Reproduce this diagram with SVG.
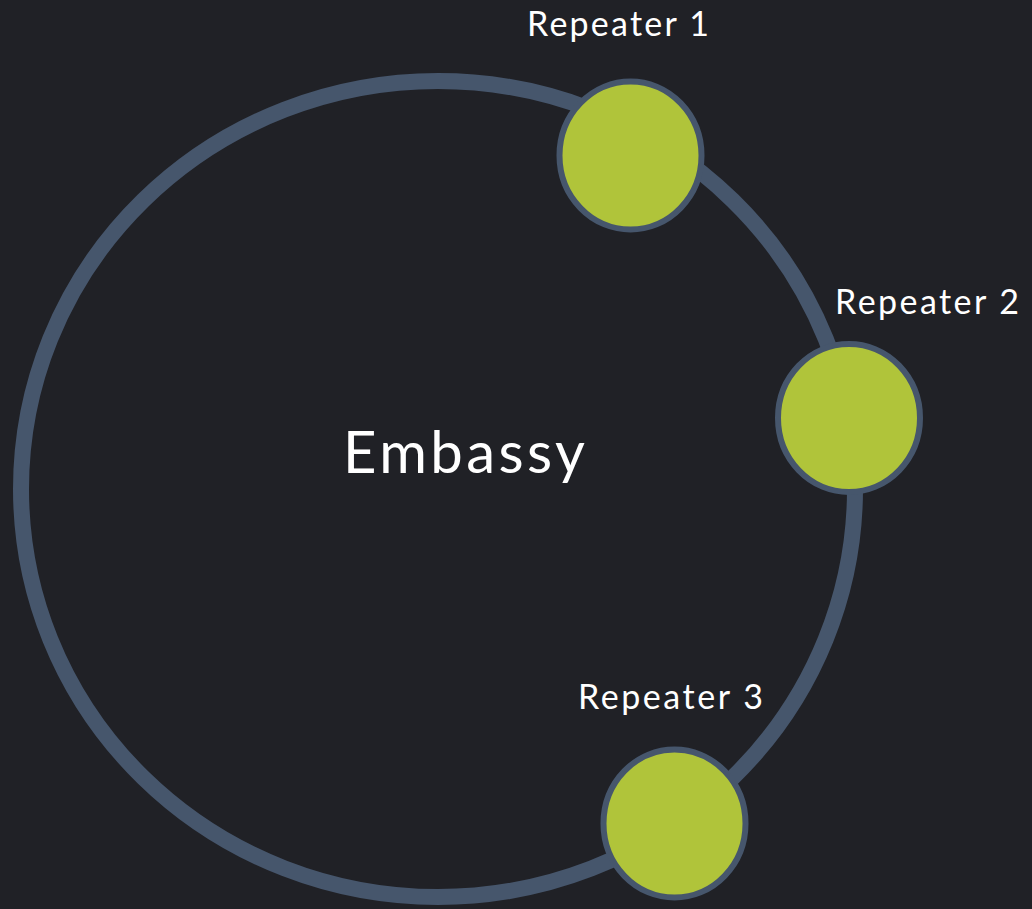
<svg xmlns="http://www.w3.org/2000/svg" width="1032" height="909" viewBox="0 0 1032 909">
  <style>
    .ring { fill: none; stroke: #46566c; stroke-width: 16; }
    .node { fill: #b0c43a; stroke: #46566c; stroke-width: 6; }
    .label { fill: #ffffff; font-family: Lato, "Open Sans", "Liberation Sans", sans-serif; font-size: 34px; }
    .title { fill: #ffffff; font-family: Lato, "Open Sans", "Liberation Sans", sans-serif; font-size: 58px; }
  </style>
  <rect x="0" y="0" width="1032" height="909" fill="#202126"/>

  <!-- ring linking the embassy and its repeaters -->
  <g id="connectors">
    <ellipse class="ring" cx="438" cy="489" rx="417" ry="408"/>
  </g>

  <g id="embassy">
    <text class="title" x="343" y="473" textLength="242" lengthAdjust="spacing">Embassy</text>
  </g>

  <g id="repeater-1">
    <ellipse class="node" cx="630.5" cy="155.5" rx="71" ry="74"/>
    <text class="label" x="527" y="36" textLength="182" lengthAdjust="spacing">Repeater 1</text>
  </g>

  <g id="repeater-2">
    <ellipse class="node" cx="849" cy="418" rx="71" ry="74"/>
    <text class="label" x="835" y="314" textLength="184" lengthAdjust="spacing">Repeater 2</text>
  </g>

  <g id="repeater-3">
    <ellipse class="node" cx="674.5" cy="823.5" rx="71" ry="74"/>
    <text class="label" x="578" y="709" textLength="185" lengthAdjust="spacing">Repeater 3</text>
  </g>
</svg>
